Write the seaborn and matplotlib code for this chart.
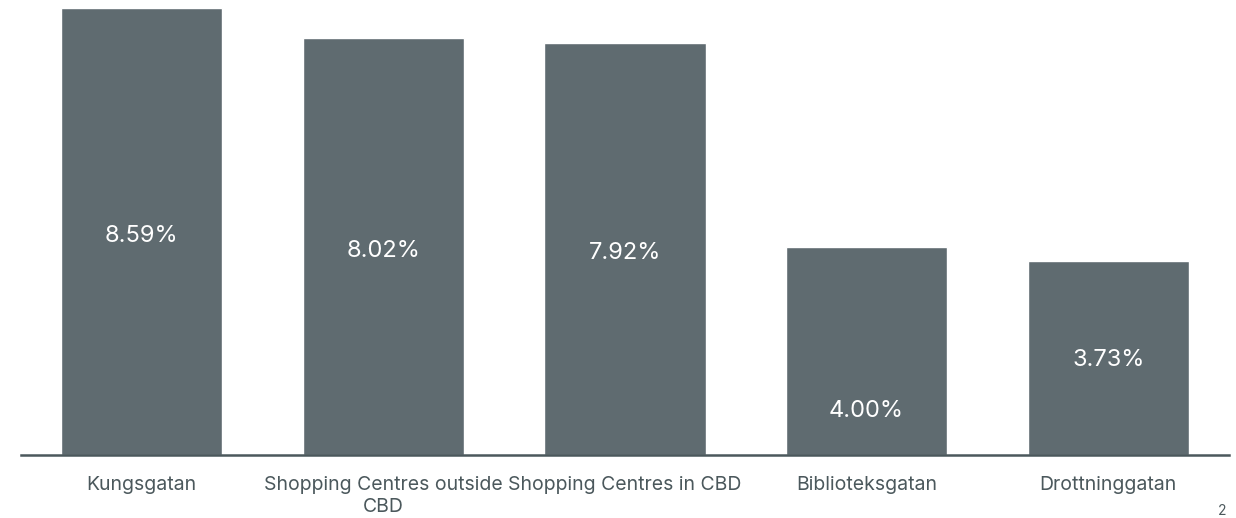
import matplotlib
matplotlib.use("Agg")
import matplotlib.pyplot as plt
import seaborn as sns
import pandas as pd

categories = ["Kungsgatan", "Shopping Centres outside\nCBD", "Shopping Centres in CBD",
              "Biblioteksgatan", "Drottninggatan"]
values = [8.59, 8.02, 7.92, 4.00, 3.73]
value_labels = ["8.59%", "8.02%", "7.92%", "4.00%", "3.73%"]
label_frac = [0.49, 0.49, 0.49, 0.21, 0.49]

sns.set_theme(style="white")
plt.rcParams["font.family"] = ["Inter", "DejaVu Sans"]

bar_color = "#5F6B70"
text_color = "#4B585C"

df = pd.DataFrame({"cat": categories, "val": values})

fig = plt.figure(figsize=(12.36, 5.18), dpi=100)
ax = fig.add_axes([21 / 1236, 63 / 518, 1208 / 1236, 455 / 518])
sns.barplot(data=df, x="cat", y="val", color=bar_color, saturation=1, width=0.667, ax=ax)
ax.set_xlim(-0.5, 4.5)
ax.set_ylim(0, 8.75)
ax.set_xlabel("")
ax.set_ylabel("")
ax.set_yticks([])
for s in ["top", "right", "left"]:
    ax.spines[s].set_visible(False)
ax.spines["bottom"].set_color(text_color)
ax.spines["bottom"].set_linewidth(1.8)
ax.tick_params(axis="x", length=0, pad=15, labelsize=14, labelcolor=text_color)
for lbl in ax.get_xticklabels():
    lbl.set_multialignment("center")
    lbl.set_linespacing(1.3)

for i, (v, t, f) in enumerate(zip(values, value_labels, label_frac)):
    ax.text(i, v * f, t, ha="center", va="center", color="white", fontsize=17)

fig.text(1222 / 1236, 1 - 504 / 518, "2", ha="center", va="top", color=text_color, fontsize=10)

fig.savefig("out.png", dpi=100)
